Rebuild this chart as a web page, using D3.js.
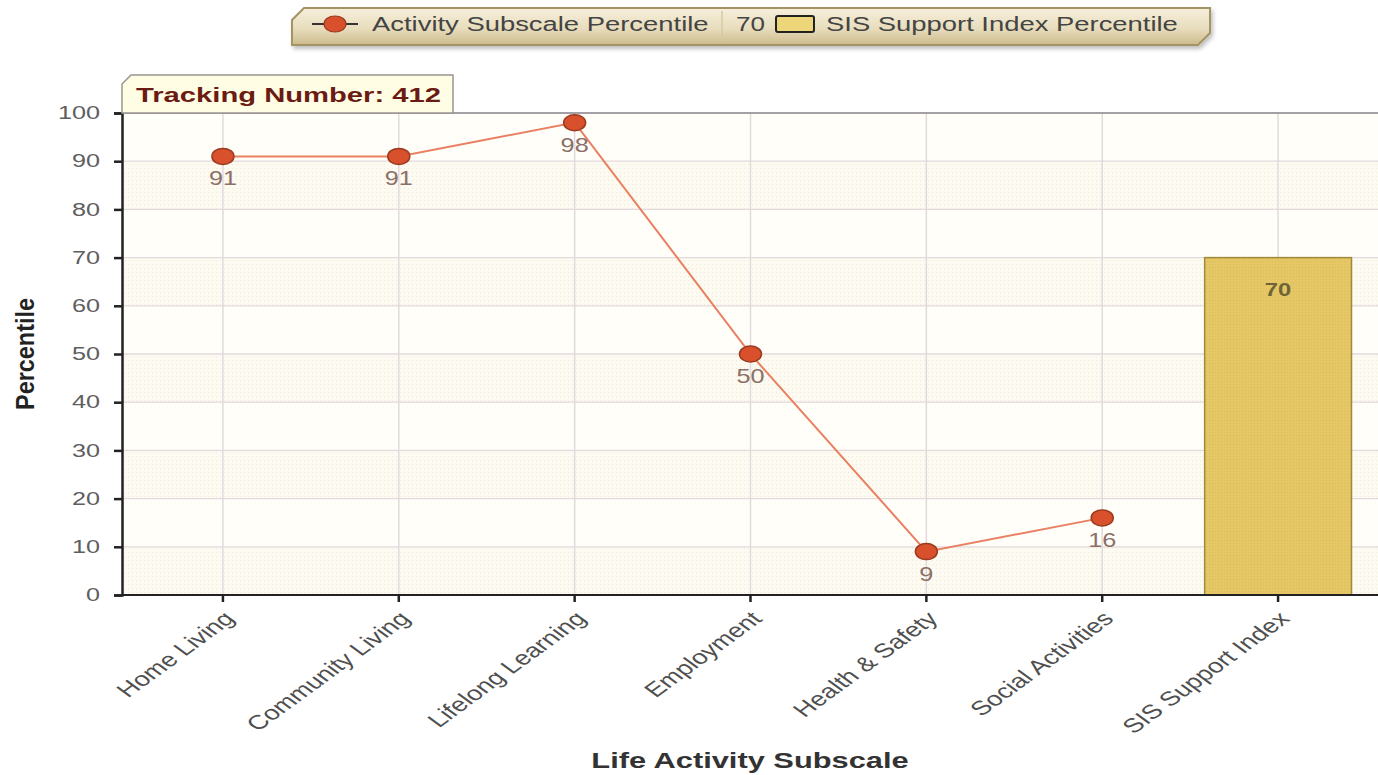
<!DOCTYPE html>
<html>
<head>
<meta charset="utf-8">
<title>SIS Percentile</title>
<script src="https://d3js.org/d3.v7.min.js"></script>
<style>
  body { margin: 0; background: #fff; }
  text { font-family: "Liberation Sans", Arial, sans-serif; }
</style>
</head>
<body>
<script>
// data
var categorias = ["Home Living", "Community Living", "Lifelong Learning", "Employment",
                  "Health & Safety", "Social Activities", "SIS Support Index"];
var subescalas = [91, 91, 98, 50, 9, 16];          // linha (6 primeiras categorias)
var indiceSIS = [{cat: "SIS Support Index", valor: 70}];
var ticksY = [0, 10, 20, 30, 40, 50, 60, 70, 80, 90, 100];
var trackingNumber = 412;

var W = 1378, H = 775;
var svg = d3.select("body").append("svg").attr("width", W).attr("height", H);

var x0 = 122, x1 = 1378, yTop = 113, yBot = 595;
var ESTICA = 1.37;   // a imagem original é esticada na horizontal

var x = d3.scaleBand().domain(categorias).range([135, 1366]).paddingInner(0.165).paddingOuter(0.0825);
var y = d3.scaleLinear().domain([0, 100]).range([yBot, yTop]);
function cx(c) { return x(c) + x.bandwidth() / 2; }

// estica o texto na horizontal
function esticar(sel, f) {
  sel.each(function(){
    var l = this.getComputedTextLength();
    d3.select(this).attr("textLength", l * f).attr("lengthAdjust", "spacingAndGlyphs");
  });
}

// padrões
var defs = svg.append("defs");
var pat = defs.append("pattern").attr("id", "pontos").attr("width", 4).attr("height", 4)
  .attr("patternUnits", "userSpaceOnUse");
pat.append("rect").attr("width", 4).attr("height", 4).attr("fill", "#fdfbf1");
pat.append("rect").attr("width", 1).attr("height", 1).attr("fill", "#efeadb");

var gradLeg = defs.append("linearGradient").attr("id", "gradLeg").attr("x1", 0).attr("y1", 0).attr("x2", 0).attr("y2", 1);
gradLeg.append("stop").attr("offset", "0%").attr("stop-color", "#f6efdc");
gradLeg.append("stop").attr("offset", "55%").attr("stop-color", "#e8ddbd");
gradLeg.append("stop").attr("offset", "100%").attr("stop-color", "#cdbb8c");

var gradBar = defs.append("pattern").attr("id", "barra").attr("width", 3).attr("height", 3)
  .attr("patternUnits", "userSpaceOnUse");
gradBar.append("rect").attr("width", 3).attr("height", 3).attr("fill", "#e5c865");
gradBar.append("rect").attr("width", 1).attr("height", 1).attr("fill", "#d9bb58");

var sombra = defs.append("filter").attr("id", "sombra").attr("x", "-5%").attr("y", "-30%")
  .attr("width", "110%").attr("height", "180%");
sombra.append("feDropShadow").attr("dx", 2).attr("dy", 3).attr("stdDeviation", 2)
  .attr("flood-color", "#000").attr("flood-opacity", 0.25);

// fundo da área
svg.append("rect").attr("x", x0).attr("y", yTop).attr("width", x1 - x0).attr("height", yBot - yTop)
  .attr("fill", "#fffef9");

// faixas alternadas
svg.selectAll("rect.faixa").data(ticksY.slice(0, -1).filter(function(d, i){ return i % 2 == 0; }))
  .enter().append("rect").attr("class", "faixa")
  .attr("x", x0).attr("width", x1 - x0)
  .attr("y", function(d){ return y(d + 10); })
  .attr("height", function(d){ return y(d) - y(d + 10); })
  .attr("fill", "url(#pontos)");

// grade
svg.selectAll("line.gh").data(ticksY.slice(1)).enter().append("line").attr("class", "gh")
  .attr("x1", x0).attr("x2", x1)
  .attr("y1", function(d){ return y(d); }).attr("y2", function(d){ return y(d); })
  .attr("stroke", "#e2d9dd").attr("stroke-width", 1.3);
svg.selectAll("line.gv").data(categorias).enter().append("line").attr("class", "gv")
  .attr("x1", cx).attr("x2", cx).attr("y1", yTop).attr("y2", yBot)
  .attr("stroke", "#e2d9dd").attr("stroke-width", 1.5);

// borda superior
svg.append("line").attr("x1", x0).attr("x2", x1).attr("y1", yTop).attr("y2", yTop)
  .attr("stroke", "#8d8a8f").attr("stroke-width", 1.5);

// barra SIS
svg.selectAll("rect.barra").data(indiceSIS).enter().append("rect").attr("class", "barra")
  .attr("x", function(d){ return x(d.cat); })
  .attr("width", x.bandwidth())
  .attr("y", function(d){ return y(d.valor); })
  .attr("height", function(d){ return yBot - y(d.valor); })
  .attr("fill", "url(#barra)").attr("stroke", "#a08a3a").attr("stroke-width", 1.5);
svg.selectAll("text.rotBarra").data(indiceSIS).enter().append("text").attr("class", "rotBarra")
  .attr("x", function(d){ return cx(d.cat); })
  .attr("y", function(d){ return y(d.valor) + 38; })
  .attr("text-anchor", "middle").attr("font-size", 19).attr("font-weight", "bold")
  .attr("fill", "#6f6437").text(function(d){ return d.valor; })
  .call(esticar, 1.25);

// eixos
var eixoY = d3.axisLeft(y).tickValues(ticksY).tickSize(8).tickPadding(14);
var gY = svg.append("g").attr("transform", "translate(" + x0 + ",0)").call(eixoY);
gY.select(".domain").attr("stroke", "#222").attr("stroke-width", 2.5);
gY.selectAll(".tick line").attr("stroke", "#222").attr("stroke-width", 2.5);
gY.selectAll("text").attr("font-size", 18).attr("fill", "#5e5e5e")
  .attr("font-family", "Liberation Sans, Arial, sans-serif")
  .call(esticar, 1.4);

var eixoX = d3.axisBottom(x).tickSize(7).tickSizeOuter(0).tickPadding(8);
var gX = svg.append("g").attr("transform", "translate(0," + yBot + ")").call(eixoX);
gX.select(".domain").attr("stroke", "#222").attr("stroke-width", 2)
  .attr("d", "M" + x0 + ",0H" + x1);
gX.selectAll(".tick line").attr("stroke", "#222").attr("stroke-width", 2.5);
gX.selectAll("text").attr("font-size", 20).attr("fill", "#4f4f4f")
  .attr("font-family", "Liberation Sans, Arial, sans-serif")
  .attr("text-anchor", "end").attr("x", 0).attr("y", 0).attr("dy", "0.35em")
  .attr("transform", "translate(6,20) scale(" + ESTICA + ",1) rotate(-45)");

// linha das subescalas
var dadosLinha = subescalas.map(function(v, i){ return {cat: categorias[i], valor: v}; });
var linha = d3.line().x(function(d){ return cx(d.cat); }).y(function(d){ return y(d.valor); });
svg.append("path").datum(dadosLinha).attr("d", linha)
  .attr("fill", "none").attr("stroke", "#ea8062").attr("stroke-width", 2);
svg.selectAll("ellipse.ponto").data(dadosLinha).enter().append("ellipse").attr("class", "ponto")
  .attr("cx", function(d){ return cx(d.cat); }).attr("cy", function(d){ return y(d.valor); })
  .attr("rx", 11).attr("ry", 8)
  .attr("fill", "#d9502c").attr("stroke", "#9b3a1f").attr("stroke-width", 1.5);
svg.selectAll("text.rotPonto").data(dadosLinha).enter().append("text").attr("class", "rotPonto")
  .attr("x", function(d){ return cx(d.cat); }).attr("y", function(d){ return y(d.valor) + 29; })
  .attr("text-anchor", "middle").attr("font-size", 21).attr("fill", "#8c6f66")
  .text(function(d){ return d.valor; })
  .call(esticar, 1.2);

// títulos dos eixos
svg.append("text").attr("transform", "translate(34,354) rotate(-90)")
  .attr("text-anchor", "middle").attr("font-size", 25).attr("font-weight", "bold")
  .attr("fill", "#222").attr("textLength", 112).attr("lengthAdjust", "spacingAndGlyphs")
  .text("Percentile");
svg.append("text").attr("x", 750).attr("y", 768)
  .attr("text-anchor", "middle").attr("font-size", 22).attr("font-weight", "bold")
  .attr("fill", "#333").text("Life Activity Subscale")
  .call(esticar, 1.4);

// caixa Tracking Number
svg.append("path")
  .attr("d", "M122,113 L122,84 L131,75 L453,75 L453,113 Z")
  .attr("fill", "#fffde3").attr("stroke", "#9a9590").attr("stroke-width", 1.5);
svg.append("text").attr("x", 136).attr("y", 102).attr("font-size", 21).attr("font-weight", "bold")
  .attr("fill", "#6b1a14").text("Tracking Number: " + trackingNumber)
  .call(esticar, 1.39);

// legenda
var leg = svg.append("g");
leg.append("path")
  .attr("d", "M292,20 L304,8 L1210,8 L1210,33 L1198,45 L292,45 Z")
  .attr("fill", "url(#gradLeg)").attr("stroke", "#a59463").attr("stroke-width", 2)
  .attr("filter", "url(#sombra)");
leg.append("line").attr("x1", 312).attr("x2", 358).attr("y1", 24).attr("y2", 24)
  .attr("stroke", "#333").attr("stroke-width", 2);
leg.append("ellipse").attr("cx", 335).attr("cy", 24).attr("rx", 11).attr("ry", 8)
  .attr("fill", "#d9502c").attr("stroke", "#9b3a1f").attr("stroke-width", 1.2);
leg.append("text").attr("x", 372).attr("y", 31).attr("font-size", 20).attr("fill", "#444")
  .text("Activity Subscale Percentile").call(esticar, ESTICA);
leg.append("line").attr("x1", 722).attr("x2", 722).attr("y1", 11).attr("y2", 42)
  .attr("stroke", "#d6c9a4").attr("stroke-width", 1.5);
leg.append("text").attr("x", 736).attr("y", 31).attr("font-size", 20).attr("fill", "#444")
  .text(indiceSIS[0].valor).call(esticar, 1.3);
leg.append("rect").attr("x", 776).attr("y", 16).attr("width", 38).attr("height", 16).attr("rx", 2)
  .attr("fill", "#edd57a").attr("stroke", "#222").attr("stroke-width", 2);
leg.append("text").attr("x", 826).attr("y", 31).attr("font-size", 20).attr("fill", "#444")
  .text("SIS Support Index Percentile").call(esticar, ESTICA);
</script>
</body>
</html>
